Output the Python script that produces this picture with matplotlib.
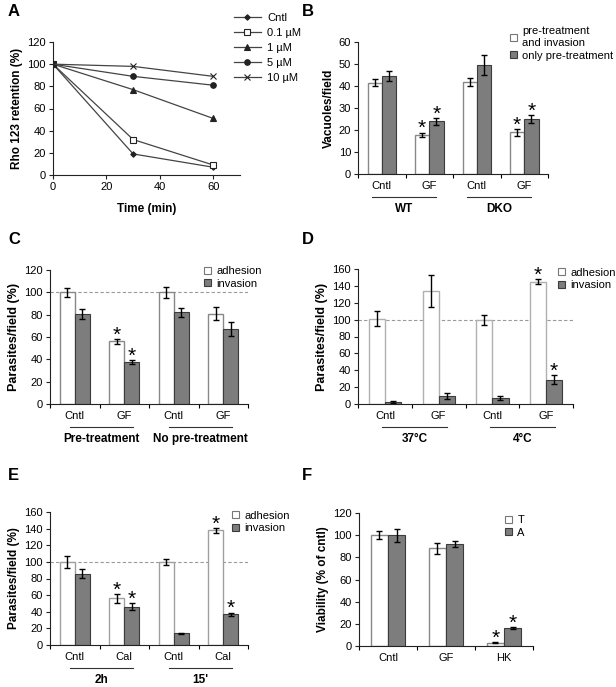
import numpy as np
import matplotlib
matplotlib.use("Agg")
import matplotlib.pyplot as plt
from matplotlib.patches import Patch
from matplotlib.transforms import blended_transform_factory

plt.rcParams['font.family'] = ['Liberation Sans', 'DejaVu Sans']
plt.rcParams['font.size'] = 8

# --- A: Rho 123 retention ---
time_min = [0, 30, 60]
rho_labels = ["Cntl", "0.1 µM", "1 µM", "5 µM", "10 µM"]
rho_cntl = [100, 19, 7]
rho_01 = [100, 32, 9]
rho_1 = [100, 77, 51]
rho_5 = [100, 89, 81]
rho_10 = [100, 98, 89]

# --- B: vacuoles/field ---
b_cats = ["Cntl", "GF", "Cntl", "GF"]
b_groups = ["WT", "DKO"]
b_white = [41.5, 17.8, 42.0, 19.0]
b_white_err = [1.6, 1.0, 1.8, 1.5]
b_grey = [44.5, 24.0, 49.5, 25.0]
b_grey_err = [2.2, 1.6, 4.5, 1.8]
b_stars_w = [False, True, False, True]
b_stars_g = [False, True, False, True]

# --- C: pre-treatment ---
c_cats = ["Cntl", "GF", "Cntl", "GF"]
c_groups = ["Pre-treatment", "No pre-treatment"]
c_adh = [100, 56, 100, 81]
c_adh_err = [4, 2, 5, 5.5]
c_inv = [81, 37.5, 82, 67]
c_inv_err = [4.5, 2, 4, 6.5]
c_stars_a = [False, True, False, False]
c_stars_i = [False, True, False, False]

# --- D: temperature ---
d_cats = ["Cntl", "GF", "Cntl", "GF"]
d_groups = ["37°C", "4°C"]
d_adh = [101, 134, 100, 145]
d_adh_err = [9, 19, 6, 3]
d_inv = [2, 9, 7, 29]
d_inv_err = [1, 3.5, 2, 5]
d_stars_a = [False, False, False, True]
d_stars_i = [False, False, False, True]

# --- E: calcium ionophore ---
e_cats = ["Cntl", "Cal", "Cntl", "Cal"]
e_groups = ["2h", "15'"]
e_adh = [100, 56, 100, 138]
e_adh_err = [7, 5, 4, 3]
e_inv = [86, 46, 14, 37]
e_inv_err = [5, 4, 1, 2]
e_stars_a = [False, True, False, True]
e_stars_i = [False, True, False, True]

# --- F: viability ---
f_cats = ["Cntl", "GF", "HK"]
f_t = [100, 88, 3]
f_t_err = [3.5, 5, 0.6]
f_a = [100, 92, 16]
f_a_err = [6, 2.5, 1]
f_stars_t = [False, False, True]
f_stars_a = [False, False, True]

GREY = '#7d7d7d'
GREY_EDGE = '#3c3c3c'

W, H = 616, 687
fig = plt.figure(figsize=(W / 100, H / 100), dpi=100)


def px_axes(left, top, right, bottom):
    return fig.add_axes([left / W, 1 - bottom / H, (right - left) / W, (bottom - top) / H])


def style(ax):
    for s in ['top', 'right']:
        ax.spines[s].set_visible(False)
    for s in ['left', 'bottom']:
        ax.spines[s].set_linewidth(0.8)
        ax.spines[s].set_color('#222222')
    ax.tick_params(length=3, width=0.8, labelsize=8, pad=2, color='#222222')


def star(ax, x, top):
    ax.annotate('*', xy=(x, top), xytext=(0, -1.2), textcoords='offset points',
                ha='center', va='baseline', fontsize=15, annotation_clip=False)


def bar_panel(ax, cats, white, white_err, grey, grey_err, st_w, st_g,
              ymax, ylabel, labels, leg_xy, groups=None, dashed=False,
              span=(-0.12, 1.15), white_edge='#a0a0a0', ylsize=8.5):
    x = np.arange(len(cats))
    w = 0.3
    ekw = dict(lw=1, capthick=1, ecolor='black')
    ax.bar(x - w / 2, white, w, yerr=white_err, color='white',
           edgecolor=white_edge, lw=1, capsize=2, error_kw=ekw)
    ax.bar(x + w / 2, grey, w, yerr=grey_err, color=GREY,
           edgecolor=GREY_EDGE, lw=0.8, capsize=2, error_kw=ekw)
    for i in range(len(cats)):
        if st_w[i]:
            star(ax, x[i] - w / 2, white[i] + white_err[i])
        if st_g[i]:
            star(ax, x[i] + w / 2, grey[i] + grey_err[i])
    if dashed:
        ax.axhline(100, color='#999999', ls='--', lw=0.8, dashes=(3, 2), zorder=0)
    ax.set_xlim(-0.5, len(cats) - 0.5)
    ax.set_ylim(0, ymax)
    ax.set_yticks(np.arange(0, ymax + 1, 20 if ymax > 60 else 10))
    ax.set_xticks(x)
    ax.set_xticklabels(cats)
    ax.set_xticks(np.arange(-0.5, len(cats)), minor=True)
    ax.set_ylabel(ylabel, fontweight='bold', fontsize=ylsize, labelpad=3)
    style(ax)
    ax.tick_params(axis='x', which='major', length=0, pad=5)
    ax.tick_params(axis='x', which='minor', length=3, width=0.8)
    if groups:
        tr = blended_transform_factory(ax.transData, ax.transAxes)
        hgt = ax.get_position().height * H
        for g, name in enumerate(groups):
            x0, x1 = span[0] + 2 * g, span[1] + 2 * g
            ax.plot([x0, x1], [-23 / hgt] * 2, color='#333333', lw=0.8,
                    transform=tr, clip_on=False)
            ax.text((x0 + x1) / 2, -35 / hgt, name, transform=tr,
                    ha='center', va='center', fontweight='bold', fontsize=8.5)
    handles = [Patch(facecolor='white', edgecolor='#777777', lw=0.8),
               Patch(facecolor=GREY, edgecolor=GREY_EDGE, lw=0.8)]
    ax.legend(handles, labels, loc='upper left', bbox_to_anchor=leg_xy,
              frameon=False, handlelength=0.6, handleheight=0.6,
              handletextpad=0.5, labelspacing=0.25, borderpad=0,
              borderaxespad=0, fontsize=8)


# Panel A
axA = px_axes(53, 42, 240, 175)
markers = ['D', 's', '^', 'o', 'x']
sizes = [2.8, 4, 4, 4, 4]
series = [rho_cntl, rho_01, rho_1, rho_5, rho_10]
handles = []
for vals, m, ms, lab in zip(series, markers, sizes, rho_labels):
    face = 'white' if m == 's' else '#222222'
    ln, = axA.plot(time_min, vals, color='#444444', lw=0.9, marker=m,
                   ms=ms, mfc=face, mec='#222222', mew=0.8)
    handles.append(ln)
axA.set_xlim(0, 70)
axA.set_ylim(0, 120)
axA.set_xticks([0, 20, 40, 60])
axA.set_yticks(np.arange(0, 121, 20))
axA.set_xlabel('Time (min)', fontweight='bold', fontsize=8.5, labelpad=8)
axA.set_ylabel('Rho 123 retention (%)', fontweight='bold', fontsize=8.5, labelpad=3)
style(axA)
fig.legend(handles, rho_labels, loc='upper left',
           bbox_to_anchor=(228 / W, 1 - 7 / H), frameon=False,
           handlelength=2.5, handletextpad=0.5, labelspacing=0.45,
           borderpad=0, fontsize=8)

# Panel B
axB = px_axes(358, 42, 548, 174)
bar_panel(axB, b_cats, b_white, b_white_err, b_grey, b_grey_err,
          b_stars_w, b_stars_g, 60, 'Vacuoles/field',
          ['pre-treatment\nand invasion', 'only pre-treatment'], (0.8, 1.12),
          groups=b_groups, span=(-0.2, 1.15), white_edge='#888888')

# Panel C
axC = px_axes(50, 270, 248, 404)
bar_panel(axC, c_cats, c_adh, c_adh_err, c_inv, c_inv_err,
          c_stars_a, c_stars_i, 120, 'Parasites/field (%)',
          ['adhesion', 'invasion'], (0.78, 1.03), groups=c_groups,
          dashed=True, span=(-0.1, 1.18), white_edge='#888888', ylsize=9)

# Panel D
axD = px_axes(358, 269, 573, 404)
bar_panel(axD, d_cats, d_adh, d_adh_err, d_inv, d_inv_err,
          d_stars_a, d_stars_i, 160, 'Parasites/field (%)',
          ['adhesion', 'invasion'], (0.93, 1.01), groups=d_groups,
          dashed=True, span=(-0.05, 1.16), white_edge='#b0b0b0', ylsize=9)

# Panel E
axE = px_axes(50, 512, 248, 645)
bar_panel(axE, e_cats, e_adh, e_adh_err, e_inv, e_inv_err,
          e_stars_a, e_stars_i, 160, 'Parasites/field (%)',
          ['adhesion', 'invasion'], (0.92, 1.01), groups=e_groups,
          dashed=True, span=(-0.1, 1.18), white_edge='#a0a0a0')

# Panel F
axF = px_axes(359, 513, 533, 646)
bar_panel(axF, f_cats, f_t, f_t_err, f_a, f_a_err, f_stars_t, f_stars_a,
          120, 'Viability (% of cntl)', ['T', 'A'], (0.84, 0.985),
          white_edge='#888888')

for lab, (x, y) in zip('ABCDEF', [(8, 12), (302, 12), (8, 240), (302, 240),
                                  (8, 475), (302, 475)]):
    fig.text(x / W, 1 - y / H, lab, fontweight='bold', fontsize=12,
             ha='left', va='center')

fig.savefig('out.png', dpi=100)
